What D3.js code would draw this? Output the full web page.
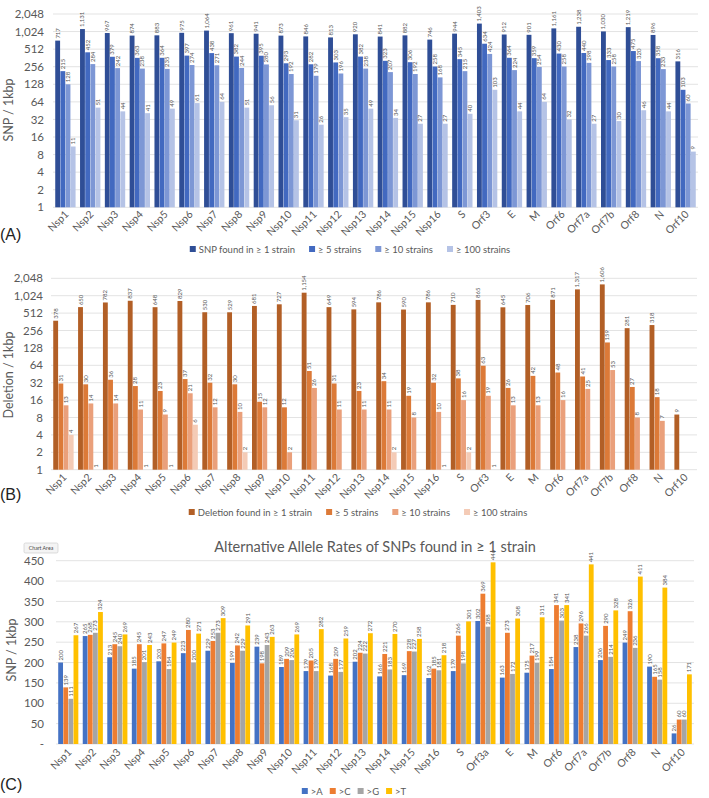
<!DOCTYPE html>
<html><head><meta charset="utf-8">
<script src="https://cdn.jsdelivr.net/npm/d3@7"></script>
<style>
body{margin:0;background:#fff;}
text{font-family:Lato,"Open Sans",sans-serif;}
</style></head>
<body><svg id="c" width="709" height="798"></svg>
<script>
const genes = ["Nsp1","Nsp2","Nsp3","Nsp4","Nsp5","Nsp6","Nsp7","Nsp8","Nsp9","Nsp10","Nsp11","Nsp12","Nsp13","Nsp14","Nsp15","Nsp16","S","Orf3","E","M","Orf6","Orf7a","Orf7b","Orf8","N","Orf10"];
const genesC = ["Nsp1","Nsp2","Nsp3","Nsp4","Nsp5","Nsp6","Nsp7","Nsp8","Nsp9","Nsp10","Nsp11","Nsp12","Nsp13","Nsp14","Nsp15","Nsp16","S","Orf3a","E","M","Orf6","Orf7a","Orf7b","Orf8","N","Orf10"];

// Panel A: SNP / 1kbp
const snp1   = [717,1131,967,874,883,975,1064,961,941,873,846,813,920,841,882,746,944,1403,912,901,1161,1238,1030,1219,896,316];
const snp5   = [215,452,379,363,364,397,438,382,395,293,282,303,382,323,306,258,345,634,364,359,430,440,333,475,358,103];
const snp10  = [128,284,242,238,235,274,271,244,280,192,179,196,238,207,192,168,215,424,224,254,258,298,258,320,233,60];
const snp100 = [11,51,44,41,49,61,64,51,56,31,26,35,49,34,27,27,40,103,44,64,32,27,30,46,44,9];
const snpSeries = ["SNP found in \u2265 1 strain","\u2265 5 strains","\u2265 10 strains","\u2265 100 strains"];

// Panel B: Deletion / 1kbp
const del1   = [378,650,782,837,648,829,530,529,681,727,1154,649,594,786,590,786,710,865,645,706,871,1317,1606,281,318,9];
const del5   = [31,30,36,28,23,37,32,30,15,12,51,31,23,34,19,32,38,63,26,42,48,41,159,27,18,null];
const del10  = [13,14,14,11,9,21,12,10,12,2,26,11,11,11,8,10,16,19,13,13,16,25,53,8,7,null];
const del100 = [4,1,null,1,1,6,null,2,null,null,null,null,null,2,null,1,2,1,null,null,null,null,null,null,null,null];
const delSeries = ["Deletion found in \u2265 1 strain","\u2265 5 strains","\u2265 10 strains","\u2265 100 strains"];

// Panel C: Alternative allele rates
const altA = [200,265,213,185,203,223,229,199,239,189,179,168,202,166,169,162,179,302,163,175,184,238,206,249,190,26];
const altC = [139,268,245,245,247,280,253,242,198,209,205,209,224,221,228,185,266,369,273,217,341,296,290,326,165,60];
const altG = [111,273,240,201,184,200,273,229,243,206,179,177,222,183,227,181,198,288,172,199,303,266,214,236,158,60];
const altT = [267,324,269,243,249,271,309,291,263,269,282,259,272,270,258,218,301,446,308,311,341,441,328,411,384,171];
const altSeries = [">A",">C",">G",">T"];

const log2Ticks = [1,2,4,8,16,32,64,128,256,512,1024,2048];
const linTicks = [0,50,100,150,200,250,300,350,400,450];

const svg = d3.select("#c");
const TXT = "#595959";
const fmt = d3.format(",");

function panel(cfg){
  const g = svg.append("g");
  const x0 = d3.scaleBand().domain(cfg.cats).range(cfg.xr).paddingInner(0.18).paddingOuter(0.09);
  const x1 = d3.scaleBand().domain(d3.range(cfg.series.length)).range([0, x0.bandwidth()]).paddingInner(0.06);
  const y = cfg.y;
  // grid
  g.selectAll("line.grid").data(cfg.ticks).join("line")
    .attr("x1", cfg.xr[0]).attr("x2", cfg.xr[1])
    .attr("y1", d=>y(d)).attr("y2", d=>y(d))
    .attr("stroke", "#E3E3E3").attr("stroke-width", 1);
  // y axis labels via axis
  const ax = d3.axisLeft(y).tickValues(cfg.ticks).tickSize(0).tickPadding(0).tickFormat(cfg.tickFmt);
  const axg = g.append("g").attr("transform", `translate(${cfg.tickX},0)`).call(ax);
  axg.select(".domain").remove();
  axg.selectAll("text").attr("fill", TXT).attr("font-size", cfg.tickSize).style("font-family","Lato,sans-serif");
  // bars
  cfg.data.forEach((vals, si) => {
    const pts = cfg.cats.map((c,i)=>({c, v:vals[i]})).filter(d=>d.v!=null);
    g.selectAll(null).data(pts).join("rect")
      .attr("x", d=>x0(d.c)+x1(si))
      .attr("width", x1.bandwidth())
      .attr("y", d=>y(d.v))
      .attr("height", d=>y(cfg.base)-y(d.v))
      .attr("fill", cfg.colors[si]);
    g.selectAll(null).data(pts).join("text")
      .attr("transform", d=>`translate(${x0(d.c)+x1(si)+x1.bandwidth()/2+2},${y(d.v)-2}) rotate(-90)`)
      .attr("font-size", 6).attr("fill", TXT)
      .text(d=>fmt(d.v));
  });
  // x labels
  g.selectAll(null).data(cfg.cats).join("text")
    .attr("transform", d=>`translate(${x0(d)+x0.bandwidth()/2+4},${cfg.xlabY}) rotate(-45)`)
    .attr("text-anchor","end").attr("font-size", 10.5).attr("fill", TXT).text(d=>d);
  // y title
  g.append("text").attr("transform", `translate(${cfg.ytX},${cfg.ytY}) rotate(-90)`)
    .attr("text-anchor","middle").attr("font-size", 12.5).attr("fill", TXT).text(cfg.ytitle);
  // panel letter
  g.append("text").attr("x",0).attr("y",cfg.letterY).attr("font-size",16).attr("fill","#222")
    .style("font-family","'Liberation Sans',Arial,sans-serif").text(cfg.letter);
  // legend
  const lg = g.append("g");
  let cx = 0;
  cfg.series.forEach((s, si) => {
    const it = lg.append("g").attr("transform", `translate(${cx},0)`);
    it.append("rect").attr("x",0).attr("y",-3).attr("width",6).attr("height",6).attr("fill",cfg.colors[si]);
    const t = it.append("text").attr("x",9).attr("y",3.5).attr("font-size",cfg.legSize).attr("fill",TXT).text(s);
    cx += 9 + t.node().getComputedTextLength() + cfg.legGap;
  });
  const w = cx - cfg.legGap;
  lg.attr("transform", `translate(${cfg.legCX - w/2},${cfg.legY})`);
  return g;
}

panel({
  cats: genes, series: snpSeries, data:[snp1,snp5,snp10,snp100],
  colors:["#2F4E96","#4269C0","#7D97D5","#B5C3E6"],
  xr:[53,698], y: d3.scaleLog().base(2).domain([1,2048]).range([207.3,14]), base:1,
  ticks: log2Ticks, tickFmt: d3.format(","), tickX:44, tickSize:11.5,
  xlabY:215, ytitle:"SNP / 1kbp", ytX:13, ytY:110, letter:"(A)", letterY:240,
  legCX:350, legY:249, legSize:9.5, legGap:14
});

panel({
  cats: genes, series: delSeries, data:[del1,del5,del10,del100],
  colors:["#B25F26","#DC7A38","#EAA07B","#F4CBB6"],
  xr:[51,697], y: d3.scaleLog().base(2).domain([1,2048]).range([469.7,278.3]), base:1,
  ticks: log2Ticks, tickFmt: d3.format(","), tickX:43, tickSize:11.5,
  xlabY:478, ytitle:"Deletion / 1kbp", ytX:13, ytY:375, letter:"(B)", letterY:500,
  legCX:358, legY:512, legSize:9.5, legGap:14
});

panel({
  cats: genesC, series: altSeries, data:[altA,altC,altG,altT],
  colors:["#4472C4","#ED7D31","#A5A5A5","#FFC000"],
  xr:[56,694], y: d3.scaleLinear().domain([0,450]).range([744,560.7]), base:0,
  ticks: linTicks, tickFmt: d=> d===0 ? "-" : d3.format(",")(d), tickX:44, tickSize:11.5,
  xlabY:753, ytitle:"SNP / 1kbp", ytX:16, ytY:650, letter:"(C)", letterY:790,
  legCX:354, legY:791, legSize:9.5, legGap:7
});

// Panel C title
svg.append("text").attr("x",375).attr("y",552).attr("text-anchor","middle")
  .attr("font-size",14.5).attr("fill",TXT).text("Alternative Allele Rates of SNPs found in \u2265 1 strain");
// "Chart Area" tooltip box from the source screenshot
const tip = svg.append("g").attr("transform","translate(24,543)");
tip.append("rect").attr("width",34).attr("height",10).attr("rx",1.5).attr("fill","#F4F4F4").attr("stroke","#C8C8C8").attr("stroke-width",0.6);
tip.append("text").attr("x",17).attr("y",7).attr("text-anchor","middle").attr("font-size",5.2).attr("fill","#444").text("Chart Area");
</script></body></html>
